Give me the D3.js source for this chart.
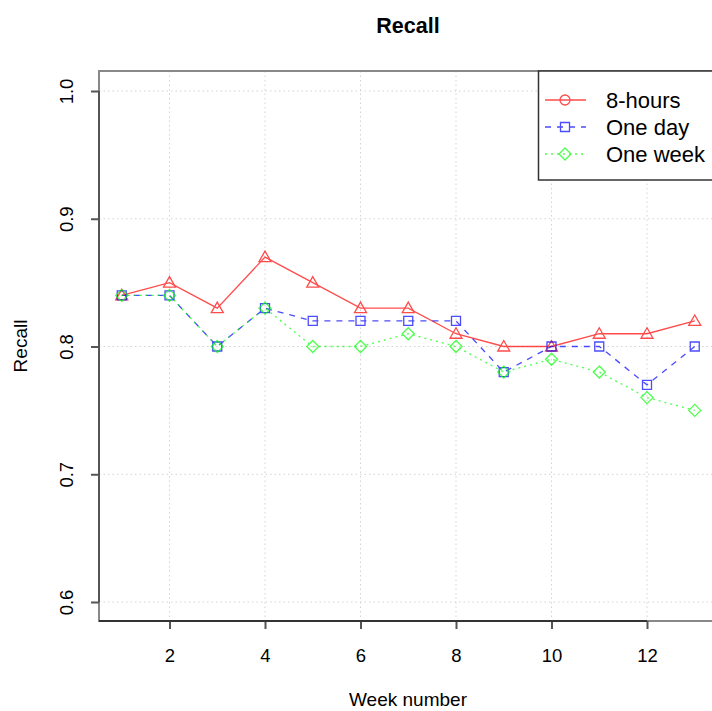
<!DOCTYPE html>
<html>
<head>
<meta charset="utf-8">
<script src="https://cdn.jsdelivr.net/npm/d3@7"></script>
<style>
  body { margin: 0; background: #fff; }
  text { font-family: "Liberation Sans", Arial, Helvetica, sans-serif; fill: #000; }
</style>
</head>
<body>
<div id="chart"></div>
<script>
// data
var weeks = [1, 2, 3, 4, 5, 6, 7, 8, 9, 10, 11, 12, 13];
var eightHours = [0.84, 0.85, 0.83, 0.87, 0.85, 0.83, 0.83, 0.81, 0.80, 0.80, 0.81, 0.81, 0.82];
var oneDay = [0.84, 0.84, 0.80, 0.83, 0.82, 0.82, 0.82, 0.82, 0.78, 0.80, 0.80, 0.77, 0.80];
var oneWeek = [0.84, 0.84, 0.80, 0.83, 0.80, 0.80, 0.81, 0.80, 0.78, 0.79, 0.78, 0.76, 0.75];
var xTicks = [2, 4, 6, 8, 10, 12];
var yTicks = [0.6, 0.7, 0.8, 0.9, 1.0];
var seriesNames = ["8-hours", "One day", "One week"];

var svgWidth = 712;
var svgHeight = 711;

// plot box
var box = { left: 99, top: 71, right: 717, bottom: 621 };

var svg = d3.select("#chart")
	.append("svg")
	.attr("width", svgWidth)
	.attr("height", svgHeight);

var x = d3.scaleLinear().domain([2, 12]).range([169.5, 647]);
var y = d3.scaleLinear().domain([0.6, 1.0]).range([602, 91]);

// grid
var grid = svg.append("g");
grid.selectAll(".vg")
	.data(xTicks)
	.enter()
	.append("line")
	.attr("x1", d => x(d)).attr("x2", d => x(d))
	.attr("y1", box.top).attr("y2", box.bottom)
	.attr("stroke", "#d3d3d3")
	.attr("stroke-dasharray", "1.5,3");
grid.selectAll(".hg")
	.data(yTicks)
	.enter()
	.append("line")
	.attr("x1", box.left).attr("x2", box.right)
	.attr("y1", d => y(d)).attr("y2", d => y(d))
	.attr("stroke", "#d3d3d3")
	.attr("stroke-dasharray", "1.5,3");

// series
var series = [
	{ name: seriesNames[0], values: eightHours, color: "#ff0000", dash: null, shape: "triangle" },
	{ name: seriesNames[1], values: oneDay, color: "#0000ff", dash: "6,6", shape: "square" },
	{ name: seriesNames[2], values: oneWeek, color: "#00ff00", dash: "2,4", shape: "diamond" }
];

function markerPath(shape, cx, cy) {
	if (shape === "triangle") {
		return `M${cx},${cy - 6}L${cx + 6},${cy + 4.5}L${cx - 6},${cy + 4.5}Z`;
	} else if (shape === "square") {
		return `M${cx - 4.5},${cy - 4.5}h9v9h-9Z`;
	} else if (shape === "diamond") {
		return `M${cx},${cy - 6}L${cx + 6},${cy}L${cx},${cy + 6}L${cx - 6},${cy}Z`;
	}
	return "";
}

var line = d3.line()
	.x((d, i) => x(weeks[i]))
	.y(d => y(d));

series.forEach(function(s) {
	var g = svg.append("g").attr("opacity", 0.7);
	g.append("path")
		.attr("d", line(s.values))
		.attr("fill", "none")
		.attr("stroke", s.color)
		.attr("stroke-width", 1.3)
		.attr("stroke-dasharray", s.dash);
	g.selectAll("path.pt")
		.data(s.values)
		.enter()
		.append("path")
		.attr("class", "pt")
		.attr("d", (d, i) => markerPath(s.shape, x(weeks[i]), y(d)))
		.attr("fill", "none")
		.attr("stroke", s.color)
		.attr("stroke-width", 1.3);
});

// box
svg.append("rect")
	.attr("x", box.left).attr("y", box.top)
	.attr("width", box.right - box.left).attr("height", box.bottom - box.top)
	.attr("fill", "none")
	.attr("stroke", "#888")
	.attr("stroke-width", 2);

// axes
var bottomAxis = d3.axisBottom(x).tickValues(xTicks).tickSize(8).tickPadding(20).tickFormat(d3.format("d"));
var xAxisG = svg.append("g")
	.attr("transform", `translate(0, ${box.bottom})`)
	.call(bottomAxis);
xAxisG.select(".domain").remove();
xAxisG.append("line")
	.attr("x1", box.left).attr("x2", x(12))
	.attr("stroke", "#333").attr("stroke-width", 2);
xAxisG.selectAll(".tick line").attr("stroke", "#555").attr("stroke-width", 2);
xAxisG.selectAll(".tick text").attr("font-size", 18.5).attr("fill", "#000")
	.style("font-family", "Liberation Sans, Arial, sans-serif");

var leftAxis = d3.axisLeft(y).tickValues(yTicks).tickSize(8).tickFormat(d3.format(".1f"));
var yAxisG = svg.append("g")
	.attr("transform", `translate(${box.left}, 0)`)
	.call(leftAxis);
yAxisG.select(".domain").remove();
yAxisG.append("line")
	.attr("y1", y(1.0)).attr("y2", y(0.6))
	.attr("stroke", "#555").attr("stroke-width", 2);
yAxisG.selectAll(".tick line").attr("stroke", "#555").attr("stroke-width", 2);
yAxisG.selectAll(".tick text")
	.attr("x", 0).attr("dy", 0)
	.attr("transform", "translate(-33, 0) rotate(-90)")
	.attr("text-anchor", "middle")
	.attr("dominant-baseline", "central")
	.attr("font-size", 18.5).attr("fill", "#000")
	.style("font-family", "Liberation Sans, Arial, sans-serif");

// title & labels
svg.append("text")
	.attr("x", 408).attr("y", 33)
	.attr("text-anchor", "middle")
	.attr("font-size", 21.5)
	.attr("font-weight", "bold")
	.text("Recall");

svg.append("text")
	.attr("x", 408).attr("y", 706)
	.attr("text-anchor", "middle")
	.attr("font-size", 19)
	.text("Week number");

svg.append("text")
	.attr("transform", "translate(27, 346) rotate(-90)")
	.attr("text-anchor", "middle")
	.attr("font-size", 19)
	.text("Recall");

// legend
var legend = svg.append("g");
legend.append("rect")
	.attr("x", 538.5).attr("y", 71)
	.attr("width", 178).attr("height", 109)
	.attr("fill", "#fff")
	.attr("stroke", "#333")
	.attr("stroke-width", 1.5);

var legendShapes = ["circle", "square", "diamond"];
series.forEach(function(s, i) {
	var ly = 100 + i * 27;
	var g = legend.append("g").attr("opacity", 0.7);
	g.append("line")
		.attr("x1", 545).attr("x2", 586)
		.attr("y1", ly).attr("y2", ly)
		.attr("stroke", s.color)
		.attr("stroke-width", 1.3)
		.attr("stroke-dasharray", s.dash);
	if (legendShapes[i] === "circle") {
		g.append("circle")
			.attr("cx", 565).attr("cy", ly).attr("r", 5)
			.attr("fill", "none").attr("stroke", s.color).attr("stroke-width", 1.3);
	} else {
		g.append("path")
			.attr("d", markerPath(legendShapes[i], 565, ly))
			.attr("fill", "none").attr("stroke", s.color).attr("stroke-width", 1.3);
	}
	legend.append("text")
		.attr("x", 606).attr("y", ly)
		.attr("dy", "0.35em")
		.attr("font-size", 22)
		.text(s.name);
});
</script>
</body>
</html>
